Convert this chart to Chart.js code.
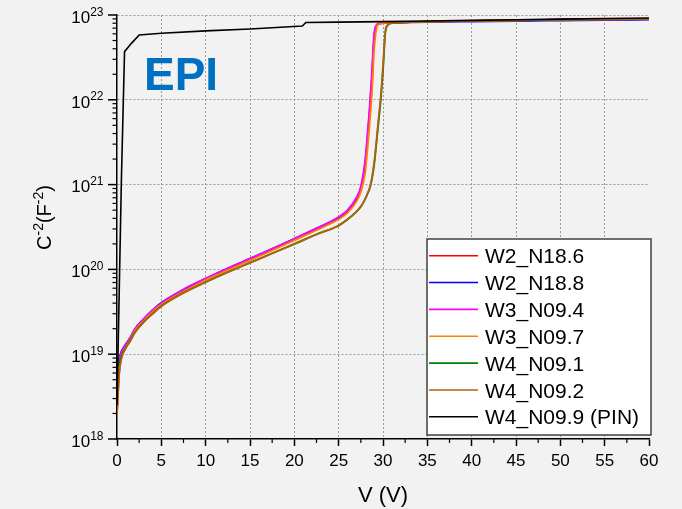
<!DOCTYPE html>
<html><head><meta charset="utf-8">
<script src="https://cdn.jsdelivr.net/npm/chart.js@4.4.1/dist/chart.umd.min.js"></script>
<style>html,body{margin:0;padding:0;background:#f2f2f2;overflow:hidden;}#wrap{width:682px;height:509px;}</style>
</head><body><div id="wrap"><canvas id="c" width="682" height="509"></canvas></div>
<script>
// ---- data ----
const voltage = [0,0.25,0.5,1,1.5,2,3,4,5,7.5,10,12.5,15,17.5,20,22.5,25,26,27,27.5,28,28.25,28.5,28.75,29,29.25,29.5,29.75,30,30.25,30.5,30.75,31,32,35,40,45,50,55,60];
const w2_n18_6 = [2.0e18,6.5e18,9.5e18,1.25e19,1.5e19,1.9e19,2.5e19,3.2e19,3.9e19,5.6e19,7.6e19,1.0e20,1.3e20,1.7e20,2.25e20,2.95e20,4.0e20,4.8e20,6.6e20,8.7e20,1.7e21,3.2e21,6.5e21,1.5e22,5.0e22,7.3e22,7.9e22,8.0e22,8.05e22,8.08e22,8.1e22,8.12e22,8.14e22,8.2e22,8.35e22,8.5e22,8.65e22,8.8e22,8.9e22,9.0e22];
const w2_n18_8 = [8.0e18,9.0e18,1.08e19,1.32e19,1.57e19,1.97e19,2.6e19,3.3e19,4.05e19,5.8e19,7.8e19,1.03e20,1.34e20,1.75e20,2.3e20,3.05e20,4.1e20,4.95e20,6.8e20,9.0e20,1.8e21,3.5e21,7.5e21,1.8e22,5.5e22,7.4e22,7.85e22,7.95e22,8.0e22,8.02e22,8.04e22,8.06e22,8.08e22,8.12e22,8.25e22,8.38e22,8.5e22,8.6e22,8.7e22,8.8e22];
const w3_n09_4 = [7.0e18,8.5e18,1.05e19,1.3e19,1.55e19,1.95e19,2.6e19,3.3e19,4.0e19,5.8e19,7.8e19,1.03e20,1.34e20,1.75e20,2.3e20,3.05e20,4.15e20,5.0e20,7.0e20,9.5e20,2.0e21,4.0e21,8.5e21,2.2e22,6.0e22,7.6e22,7.95e22,8.02e22,8.06e22,8.08e22,8.1e22,8.12e22,8.14e22,8.2e22,8.35e22,8.5e22,8.65e22,8.8e22,8.9e22,9.0e22];
const w3_n09_7 = [2.0e18,6.0e18,9.2e18,1.22e19,1.48e19,1.88e19,2.48e19,3.15e19,3.85e19,5.5e19,7.5e19,9.8e19,1.28e20,1.67e20,2.2e20,2.9e20,3.9e20,4.65e20,6.3e20,8.2e20,1.4e21,2.6e21,5.2e21,1.2e22,3.8e22,6.8e22,7.8e22,7.98e22,8.05e22,8.08e22,8.1e22,8.12e22,8.14e22,8.2e22,8.35e22,8.5e22,8.65e22,8.8e22,8.9e22,9.0e22];
const w4_n09_1 = [7.0e18,7.8e18,9.5e18,1.2e19,1.45e19,1.8e19,2.4e19,3.0e19,3.7e19,5.3e19,7.1e19,9.3e19,1.2e20,1.55e20,2.0e20,2.6e20,3.3e20,3.9e20,4.8e20,5.5e20,6.8e20,7.8e20,9.0e20,1.15e21,1.7e21,3.0e21,5.5e21,1.0e22,2.2e22,6.0e22,7.5e22,7.9e22,8.0e22,8.15e22,8.35e22,8.5e22,8.65e22,8.8e22,8.9e22,9.0e22];
const w4_n09_2 = [2.0e18,5.8e18,8.8e18,1.18e19,1.43e19,1.78e19,2.38e19,2.98e19,3.68e19,5.28e19,7.05e19,9.25e19,1.19e20,1.54e20,1.98e20,2.58e20,3.28e20,3.88e20,4.78e20,5.5e20,6.8e20,7.8e20,9.2e20,1.2e21,1.8e21,3.2e21,6.0e21,1.1e22,2.5e22,6.3e22,7.6e22,7.95e22,8.02e22,8.15e22,8.35e22,8.5e22,8.65e22,8.8e22,8.9e22,9.0e22];
const pinVoltage = [0,0.5,0.85,1.6,2.5,5,10,15,20.9,21.3,25,30,35,40,45,50,55,60];
const w4_n09_9_pin = [2.5e18,1.2e21,3.7e22,4.6e22,5.8e22,6.1e22,6.5e22,6.85e22,7.4e22,8.15e22,8.25e22,8.35e22,8.5e22,8.65e22,8.8e22,8.95e22,9.1e22,9.2e22];

const seriesNames = ['W2_N18.6','W2_N18.8','W3_N09.4','W3_N09.7','W4_N09.1','W4_N09.2','W4_N09.9 (PIN)'];
const seriesColors = ['#ff0000','#0000ff','#ff00ff','#ff8000','#008000','#b3600f','#000000'];
const xTicks = [0,5,10,15,20,25,30,35,40,45,50,55,60];
const xMinorTicks = [2.5,7.5,12.5,17.5,22.5,27.5,32.5,37.5,42.5,47.5,52.5,57.5];
const yTickExponents = [18,19,20,21,22,23];
const yTitle = [['C',0],['-2',1],['(F',0],['-2',1],[')',0]];
const xTitle = 'V (V)';
const badge = 'EPI';

const FONT = '"Liberation Sans", Arial, sans-serif';
const epiSeries = [w2_n18_6,w2_n18_8,w3_n09_4,w3_n09_7,w4_n09_1,w4_n09_2];
const datasets = epiSeries.map((arr,i)=>({
  label: seriesNames[i],
  data: voltage.map((v,j)=>({x:v,y:arr[j]})),
  borderColor: seriesColors[i], borderWidth: 1.8, pointRadius: 0, fill:false,
  cubicInterpolationMode:'monotone', order: -i
}));
datasets.push({
  label: seriesNames[6],
  data: pinVoltage.map((v,j)=>({x:v,y:w4_n09_9_pin[j]})),
  borderColor: seriesColors[6], borderWidth: 1.6, pointRadius: 0, fill:false, tension:0, order:-6
});

function seg(ctx,x1,y1,x2,y2){ctx.beginPath();ctx.moveTo(x1,y1);ctx.lineTo(x2,y2);ctx.stroke();}

const decor = {
  id:'decor',
  afterDraw(chart){
    const ctx = chart.ctx, xs = chart.scales.x, ys = chart.scales.y, ca = chart.chartArea;
    ctx.save();
    ctx.strokeStyle = '#000';
    // y ticks
    yTickExponents.forEach(e=>{
      const y = ys.getPixelForValue(Math.pow(10,e));
      ctx.lineWidth = 1.5; seg(ctx, ca.left-9, y, ca.left, y);
      if (e < 23) for (let k=2;k<=9;k++){
        const yy = ys.getPixelForValue(k*Math.pow(10,e));
        ctx.lineWidth = 1.2; seg(ctx, ca.left-4.5, yy, ca.left, yy);
      }
      // label 10^e
      ctx.fillStyle = '#000';
      ctx.textBaseline = 'alphabetic';
      ctx.textAlign = 'right';
      ctx.font = '12px ' + FONT;
      const sup = String(e);
      const supW = ctx.measureText(sup).width;
      const right = ca.left - 13.5;
      ctx.fillText(sup, right, y + 0.5);
      ctx.font = '17px ' + FONT;
      ctx.fillText('10', right - supW, y + 7.7);
    });
    // x minor ticks
    ctx.lineWidth = 1.2;
    xMinorTicks.forEach(v=>{ const x = xs.getPixelForValue(v); seg(ctx, x, ca.bottom, x, ca.bottom+4); });
    // x title
    ctx.fillStyle = '#000'; ctx.textAlign='center'; ctx.textBaseline='alphabetic';
    ctx.font = '22px ' + FONT;
    ctx.fillText(xTitle, (ca.left+ca.right)/2, 501.5);
    // y title (rotated, with superscripts)
    ctx.save();
    ctx.translate(51, 217.5);
    ctx.rotate(-Math.PI/2);
    ctx.textAlign = 'left';
    let total = 0;
    yTitle.forEach(([t,s])=>{ ctx.font = (s?'14px ':'20px ') + FONT; total += ctx.measureText(t).width; });
    let px = -total/2;
    yTitle.forEach(([t,s])=>{ ctx.font = (s?'14px ':'20px ') + FONT; ctx.fillText(t, px, s? -8 : 0); px += ctx.measureText(t).width; });
    ctx.restore();
    // EPI badge
    ctx.fillStyle = '#0070c0'; ctx.textAlign='left'; ctx.font = 'bold 46px ' + FONT;
    ctx.fillText(badge, 144, 90);
    // legend
    const lx = 427, ly = 239, lw = 224, lh = 196;
    ctx.fillStyle = '#ffffff'; ctx.fillRect(lx, ly, lw, lh);
    ctx.strokeStyle = '#404040'; ctx.lineWidth = 1.5; ctx.strokeRect(lx, ly, lw, lh);
    chart.data.datasets.forEach((ds,i)=>{
      const cy = 255.7 + i*26.85;
      ctx.strokeStyle = ds.borderColor; ctx.lineWidth = 1.6;
      seg(ctx, 429, cy, 478, cy);
      ctx.fillStyle = '#000'; ctx.font = '21px ' + FONT; ctx.textAlign='left';
      ctx.fillText(ds.label, 485, cy + 7.6);
    });
    ctx.restore();
  }
};

new Chart(document.getElementById('c'), {
  type:'line',
  data:{datasets},
  options:{
    responsive:false, animation:false,
    layout:{padding:{left:0,right:33,top:15,bottom:0}},
    plugins:{legend:{display:false},tooltip:{enabled:false}},
    scales:{
      x:{type:'linear', min:0, max:60,
        afterBuildTicks: s => { s.ticks = xTicks.map(v=>({value:v})); },
        ticks:{color:'#000', font:{family:FONT, size:17}, padding:5, maxRotation:0, autoSkip:false},
        grid:{color: c => (c.tick && (c.tick.value===0 || c.tick.value===60)) ? 'rgba(0,0,0,0)' : '#9a9a9a',
              lineWidth:1, drawTicks:true, tickLength:7, tickColor:'#000', tickWidth:1.5},
        border:{display:true, color:'#000', width:1.5, dash:[2,2]},
        afterFit: s => { s.height = 70; }
      },
      y:{type:'logarithmic', min:1e18, max:1e23,
        afterBuildTicks: s => { s.ticks = yTickExponents.map(e=>({value:Math.pow(10,e)})); },
        ticks:{display:false},
        grid:{color: c => (c.tick && c.tick.value <= 1e18) ? 'rgba(0,0,0,0)' : '#9a9a9a', lineWidth:1, drawTicks:false},
        border:{display:true, color:'#000', width:1.5, dash:[2,2]},
        afterFit: s => { s.width = 117; }
      }
    }
  },
  plugins:[decor]
});
</script></body></html>
